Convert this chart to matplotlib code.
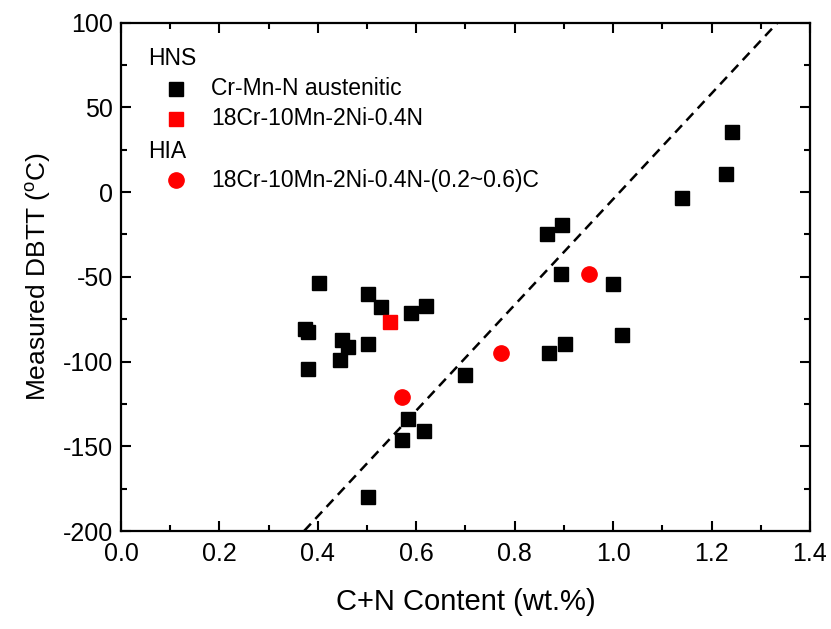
import matplotlib
matplotlib.use("Agg")
import matplotlib.pyplot as plt
from matplotlib.ticker import MultipleLocator, FormatStrFormatter

plt.rcParams['font.family'] = ['Liberation Sans', 'DejaVu Sans']
plt.rcParams['mathtext.fontset'] = 'custom'
plt.rcParams['mathtext.rm'] = 'Liberation Sans'
plt.rcParams['mathtext.it'] = 'Liberation Sans'
plt.rcParams['axes.unicode_minus'] = False

# Cr-Mn-N austenitic (black squares)
crmn_x = [0.402, 0.501, 0.529, 0.619, 0.589, 0.374, 0.380, 0.450, 0.462, 0.501,
          0.445, 0.379, 0.699, 0.583, 0.616, 0.570, 0.501,
          1.241, 1.230, 1.140, 0.897, 0.866, 0.895, 1.000, 1.019, 0.902, 0.870]
crmn_y = [-53.5, -60, -67.6, -67, -71.5, -81, -82.6, -87.3, -91.6, -89.5,
          -99, -104.6, -108, -134, -141, -146, -180,
          35.5, 10.5, -3.5, -19.5, -24.7, -48.5, -54.4, -84.5, -89.5, -94.8]

# 18Cr-10Mn-2Ni-0.4N (red square)
hns_x = [0.547]
hns_y = [-76.7]

# HIA 18Cr-10Mn-2Ni-0.4N-(0.2~0.6)C (red circles)
hia_x = [0.571, 0.772, 0.950]
hia_y = [-121, -95.2, -48.2]

# dashed trend line
line_x = [0.372, 1.334]
line_y = [-200, 100]

fig = plt.figure(figsize=(8.31, 6.29), dpi=100)
ax = fig.add_axes([0.1456, 0.1558, 0.8291, 0.8081])

ax.plot(line_x, line_y, ls=(0, (4, 2.6)), color='black', lw=1.8, zorder=2)
ax.plot(crmn_x, crmn_y, 's', color='black', ms=10, zorder=3)
ax.plot(hns_x, hns_y, 's', color='#ff0000', ms=10, zorder=4)
ax.plot(hia_x, hia_y, 'o', color='#ff0000', ms=11, zorder=4)

ax.set_xlim(0.0, 1.4)
ax.set_ylim(-200, 100)
ax.xaxis.set_major_locator(MultipleLocator(0.2))
ax.xaxis.set_minor_locator(MultipleLocator(0.1))
ax.yaxis.set_major_locator(MultipleLocator(50))
ax.yaxis.set_minor_locator(MultipleLocator(25))
ax.xaxis.set_major_formatter(FormatStrFormatter('%.1f'))
ax.tick_params(which='both', direction='in', top=True, right=True, width=1.5,
               labelsize=18, pad=6)
ax.tick_params(axis='x', which='both', pad=8)
ax.tick_params(which='major', length=7)
ax.tick_params(which='minor', length=4)
for s in ax.spines.values():
    s.set_linewidth(1.6)

ax.set_xlabel('C+N Content (wt.%)', fontsize=21, labelpad=16)
ax.set_ylabel(r'Measured DBTT ($^{\rm o}$C)', fontsize=19, labelpad=7)

# custom legend
tr = ax.transAxes
fs = 16.5
ax.text(0.039, 0.9286, 'HNS', transform=tr, fontsize=fs, va='center', ha='left')
ax.plot([0.0798], [0.8696], 's', color='black', ms=10, transform=tr)
ax.text(0.1306, 0.8696, 'Cr-Mn-N austenitic', transform=tr, fontsize=fs, va='center')
ax.plot([0.0798], [0.8106], 's', color='#ff0000', ms=10, transform=tr)
ax.text(0.1306, 0.8106, '18Cr-10Mn-2Ni-0.4N', transform=tr, fontsize=fs, va='center')
ax.text(0.039, 0.7457, 'HIA', transform=tr, fontsize=fs, va='center', ha='left')
ax.plot([0.0798], [0.6905], 'o', color='#ff0000', ms=11, transform=tr)
ax.text(0.1306, 0.6905, '18Cr-10Mn-2Ni-0.4N-(0.2~0.6)C', transform=tr, fontsize=fs, va='center')

fig.savefig('out.png', dpi=100)
